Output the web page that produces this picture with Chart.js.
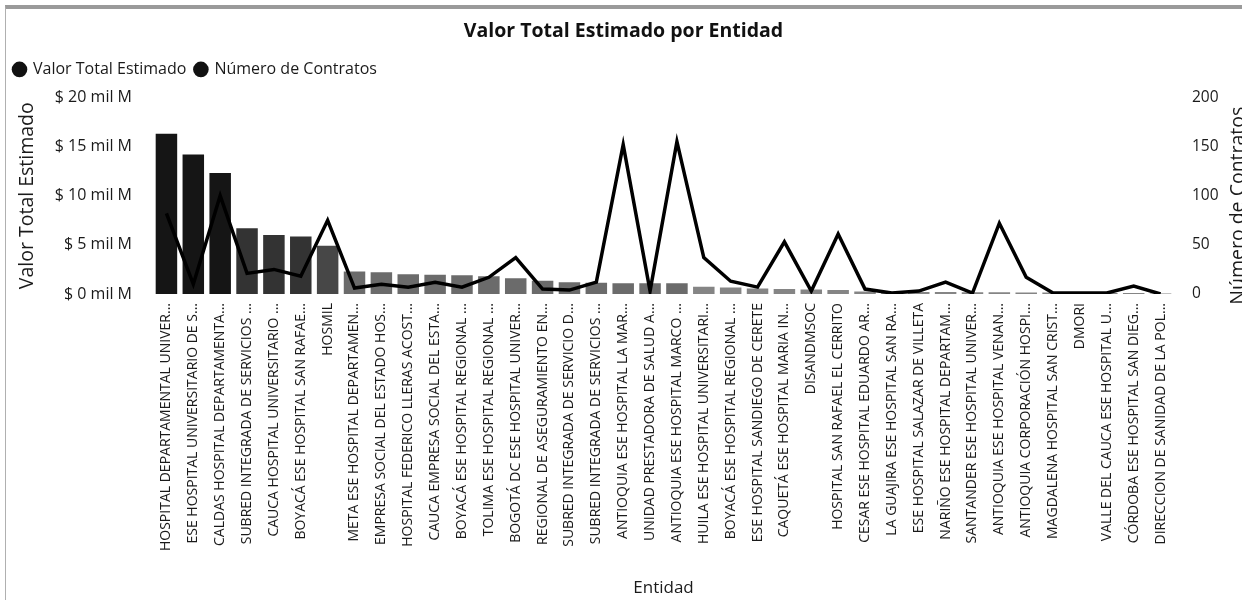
<!DOCTYPE html>
<html lang="es">
<head>
  <meta charset="UTF-8" />
  <title>Valor Total Estimado por Entidad</title>
  <script src="https://cdn.jsdelivr.net/npm/chart.js"></script>
  <style>
    body { margin: 0; background: #fff; }
    .frame { position: absolute; top: 5px; left: 5px; right: 0; bottom: 0;
             border-top: 4px solid #9a9a9a; border-left: 1px solid #b0b0b0; }
    #wrap { position: absolute; left: 0; top: 0; width: 1242px; height: 600px; }
  </style>
</head>
<body>
  <div class="frame"></div>
  <div id="wrap"><canvas id="chart" width="1242" height="600"></canvas></div>

  <script>
    const entidades = [
      'HOSPITAL DEPARTAMENTAL UNIVER...', 'ESE HOSPITAL UNIVERSITARIO DE S...',
      'CALDAS HOSPITAL DEPARTAMENTA...', 'SUBRED INTEGRADA DE SERVICIOS ...',
      'CAUCA HOSPITAL UNIVERSITARIO ...', 'BOYACÁ ESE HOSPITAL SAN RAFAE...',
      'HOSMIL', 'META ESE HOSPITAL DEPARTAMEN...',
      'EMPRESA SOCIAL DEL ESTADO HOS...', 'HOSPITAL FEDERICO LLERAS ACOST...',
      'CAUCA EMPRESA SOCIAL DEL ESTA...', 'BOYACÁ ESE HOSPITAL REGIONAL ...',
      'TOLIMA ESE HOSPITAL REGIONAL ...', 'BOGOTÁ DC ESE HOSPITAL UNIVER...',
      'REGIONAL DE ASEGURAMIENTO EN...', 'SUBRED INTEGRADA DE SERVICIO D...',
      'SUBRED INTEGRADA DE SERVICIOS ...', 'ANTIOQUIA ESE HOSPITAL LA MAR...',
      'UNIDAD PRESTADORA DE SALUD A...', 'ANTIOQUIA ESE HOSPITAL MARCO ...',
      'HUILA ESE HOSPITAL UNIVERSITARI...', 'BOYACÁ ESE HOSPITAL REGIONAL ...',
      'ESE HOSPITAL SANDIEGO DE CERETE', 'CAQUETÁ ESE HOSPITAL MARIA IN...',
      'DISANDMSOC', 'HOSPITAL SAN RAFAEL EL CERRITO',
      'CESAR ESE HOSPITAL EDUARDO AR...', 'LA GUAJIRA ESE HOSPITAL SAN RA...',
      'ESE HOSPITAL SALAZAR DE VILLETA', 'NARIÑO ESE HOSPITAL DEPARTAM...',
      'SANTANDER ESE HOSPITAL UNIVER...', 'ANTIOQUIA ESE HOSPITAL VENAN...',
      'ANTIOQUIA CORPORACIÓN HOSPI...', 'MAGDALENA HOSPITAL SAN CRIST...',
      'DMORI', 'VALLE DEL CAUCA ESE HOSPITAL U...',
      'CÓRDOBA ESE HOSPITAL SAN DIEG...', 'DIRECCION DE SANIDAD DE LA POL...'
    ];

    // valor total estimado, en miles de millones
    const valorTotal = [
      16.3, 14.2, 12.3, 6.7, 6.0, 5.85, 4.9, 2.3, 2.2, 2.0,
      1.95, 1.9, 1.8, 1.6, 1.35, 1.2, 1.15, 1.1, 1.1, 1.1,
      0.75, 0.65, 0.55, 0.5, 0.45, 0.4, 0.25, 0.2, 0.2, 0.2,
      0.18, 0.18, 0.15, 0.15, 0.12, 0.1, 0.1, 0.05
    ];

    const numContratos = [
      82, 10, 100, 21, 25, 18, 75, 6, 10, 7,
      12, 7, 17, 37, 5, 4, 12, 152, 3, 155,
      37, 13, 7, 53, 3, 61, 5, 1, 3, 12,
      1, 72, 17, 1, 1, 1, 8, 0
    ];

    const ticksValor = [0, 5, 10, 15, 20];
    const ticksContratos = [0, 50, 100, 150, 200];

    // tono de la barra segun el valor (como en la copia escaneada)
    function tono(v) {
      if (v >= 10) return '#151515';
      if (v >= 5) return '#333333';
      if (v >= 3) return '#474747';
      if (v >= 1) return '#6b6b6b';
      return '#858585';
    }

    const fuente = "'Open Sans', sans-serif";
    Chart.defaults.font.family = fuente;
    Chart.defaults.color = '#1a1a1a';

    // titulo del eje derecho, leido de abajo hacia arriba y medio cortado
    const tituloDerecho = {
      id: 'tituloDerecho',
      afterDraw(chart) {
        const c = chart.ctx;
        const a = chart.chartArea;
        c.save();
        c.translate(1238, (a.top + a.bottom) / 2 + 10);
        c.rotate(-Math.PI / 2);
        c.font = '19.5px ' + fuente;
        c.fillStyle = '#1a1a1a';
        c.textAlign = 'center';
        c.textBaseline = 'middle';
        c.fillText('Número de Contratos', 0, 0);
        c.restore();
      }
    };

    // un poco de aire debajo de la leyenda
    const espacioLeyenda = {
      id: 'espacioLeyenda',
      beforeInit(chart) {
        const fit = chart.legend.fit;
        chart.legend.fit = function () {
          fit.bind(chart.legend)();
          this.height += 10;
        };
      }
    };

    const ctx = document.getElementById('chart').getContext('2d');
    new Chart(ctx, {
      data: {
        labels: entidades,
        datasets: [
          {
            type: 'bar',
            label: 'Valor Total Estimado',
            data: valorTotal,
            backgroundColor: valorTotal.map(tono),
            yAxisID: 'y',
            order: 1,
            barPercentage: 0.8,
            categoryPercentage: 1
          },
          {
            type: 'line',
            label: 'Número de Contratos',
            data: numContratos,
            borderColor: '#000',
            backgroundColor: '#000',
            borderWidth: 3.5,
            pointRadius: 0,
            tension: 0,
            yAxisID: 'y1',
            order: 0
          }
        ]
      },
      plugins: [espacioLeyenda, tituloDerecho],
      options: {
        responsive: false,
        animation: false,
        layout: { padding: { top: 8, left: 5, right: 0, bottom: 2 } },
        plugins: {
          title: {
            display: true,
            text: 'Valor Total Estimado por Entidad',
            font: { size: 19.5, weight: 'bold' },
            color: '#111',
            padding: { top: 12, bottom: 9 }
          },
          legend: {
            position: 'top',
            align: 'start',
            labels: {
              usePointStyle: true,
              pointStyle: 'circle',
              boxWidth: 11,
              boxHeight: 11,
              padding: 9,
              font: { size: 16 },
              sort: (a, b) => a.datasetIndex - b.datasetIndex,
              generateLabels: chart => Chart.defaults.plugins.legend.labels
                .generateLabels(chart)
                .map(l => Object.assign(l, { lineWidth: 0, fillStyle: '#111', strokeStyle: '#111' }))
            }
          },
          tooltip: { enabled: false }
        },
        scales: {
          x: {
            grid: { display: false, drawTicks: false },
            border: { display: false },
            ticks: {
              autoSkip: false,
              maxRotation: 90,
              minRotation: 90,
              padding: 9,
              font: { size: 14 }
            },
            title: { display: true, text: 'Entidad', font: { size: 17 }, padding: { top: 10, bottom: 0 } },
            afterFit: s => { s.height = 304; }
          },
          y: {
            position: 'left',
            min: 0,
            max: 20,
            afterBuildTicks: s => { s.ticks = ticksValor.map(v => ({ value: v })); },
            grid: { display: false, drawTicks: false },
            border: { display: false },
            ticks: {
              padding: 21,
              font: { size: 16 },
              callback: v => '$ ' + v + ' mil M'
            },
            title: { display: true, text: 'Valor Total Estimado', font: { size: 19.5 }, padding: { top: 11, bottom: 4 } },
            afterFit: s => { s.width = 148; }
          },
          y1: {
            position: 'right',
            min: 0,
            max: 200,
            afterBuildTicks: s => { s.ticks = ticksContratos.map(v => ({ value: v })); },
            grid: { display: false, drawTicks: false },
            border: { display: false },
            ticks: { padding: 18, font: { size: 15.5 } },
            afterFit: s => { s.width = 68; }
          }
        }
      }
    });
  </script>
</body>
</html>
